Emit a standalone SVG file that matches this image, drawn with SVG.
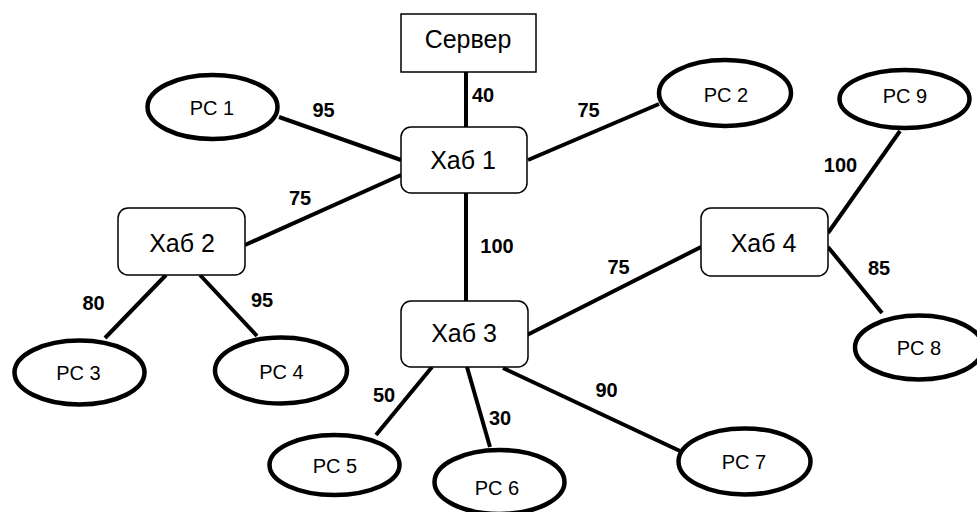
<svg xmlns="http://www.w3.org/2000/svg" width="977" height="512" viewBox="0 0 977 512">
  <style>
    .link { stroke: #000; stroke-width: 4; fill: none; }
    .pc { fill: #fff; stroke: #000; stroke-width: 4.5; }
    .hub { fill: #fff; stroke: #000; stroke-width: 1.5; }
    .pc-text { font-family: "Liberation Sans", Arial, sans-serif; font-size: 20px; text-anchor: middle; fill: #000; }
    .hub-text { font-family: "Liberation Sans", Arial, sans-serif; font-size: 25px; text-anchor: middle; fill: #000; }
    .weight { font-family: "Liberation Sans", Arial, sans-serif; font-size: 20px; font-weight: bold; text-anchor: middle; fill: #000; }
  </style>
  <rect width="977" height="512" fill="#fff"/>

  <!-- connectors with link weights -->
  <g id="connectors">
    <line class="link" x1="466" y1="72" x2="466" y2="127"/>
    <line class="link" x1="401" y1="160" x2="279" y2="117"/>
    <line class="link" x1="401" y1="175" x2="245" y2="245"/>
    <line class="link" x1="528" y1="160" x2="659" y2="104"/>
    <line class="link" x1="466" y1="193" x2="466" y2="301"/>
    <line class="link" x1="166" y1="275" x2="105" y2="338"/>
    <line class="link" x1="200" y1="275" x2="257" y2="336"/>
    <line class="link" x1="432" y1="367" x2="376" y2="435"/>
    <line class="link" x1="467" y1="367" x2="490" y2="447"/>
    <line class="link" x1="503" y1="368" x2="680" y2="451"/>
    <line class="link" x1="527" y1="335" x2="701" y2="247"/>
    <line class="link" x1="828" y1="233" x2="900" y2="131"/>
    <line class="link" x1="828" y1="247" x2="882" y2="313"/>

    <text class="weight" x="483" y="102">40</text>
    <text class="weight" x="323.5" y="117">95</text>
    <text class="weight" x="300" y="205">75</text>
    <text class="weight" x="588.5" y="117">75</text>
    <text class="weight" x="497" y="253">100</text>
    <text class="weight" x="93.5" y="310">80</text>
    <text class="weight" x="262" y="307">95</text>
    <text class="weight" x="384" y="402">50</text>
    <text class="weight" x="500" y="425">30</text>
    <text class="weight" x="606.5" y="397">90</text>
    <text class="weight" x="618.5" y="274">75</text>
    <text class="weight" x="840.5" y="172">100</text>
    <text class="weight" x="879" y="275">85</text>
  </g>

  <!-- server -->
  <g id="server">
    <rect x="401" y="14" width="135" height="58" fill="#fff" stroke="#000" stroke-width="1.5"/>
    <text class="hub-text" x="468" y="48">Сервер</text>
  </g>

  <!-- hubs -->
  <g id="hub1">
    <rect class="hub" x="401" y="127" width="126" height="66" rx="10"/>
    <text class="hub-text" x="463" y="169">Хаб 1</text>
  </g>
  <g id="hub2">
    <rect class="hub" x="118" y="208" width="127" height="67" rx="10"/>
    <text class="hub-text" x="182" y="251.5">Хаб 2</text>
  </g>
  <g id="hub3">
    <rect class="hub" x="401" y="301" width="127" height="66" rx="10"/>
    <text class="hub-text" x="464" y="341.5">Хаб 3</text>
  </g>
  <g id="hub4">
    <rect class="hub" x="701" y="208" width="127" height="68" rx="10"/>
    <text class="hub-text" x="763.5" y="251.5">Хаб 4</text>
  </g>

  <!-- workstations -->
  <g id="pc1">
    <ellipse class="pc" cx="212.5" cy="107" rx="65" ry="32"/>
    <text class="pc-text" x="212" y="115">PC 1</text>
  </g>
  <g id="pc2">
    <ellipse class="pc" cx="725" cy="93" rx="66" ry="33"/>
    <text class="pc-text" x="726" y="101.5">PC 2</text>
  </g>
  <g id="pc3">
    <ellipse class="pc" cx="79.5" cy="372.5" rx="65" ry="32"/>
    <text class="pc-text" x="78.5" y="380">PC 3</text>
  </g>
  <g id="pc4">
    <ellipse class="pc" cx="281" cy="370.5" rx="66" ry="33"/>
    <text class="pc-text" x="281.5" y="379">PC 4</text>
  </g>
  <g id="pc5">
    <ellipse class="pc" cx="334.5" cy="465" rx="65" ry="30"/>
    <text class="pc-text" x="335" y="473">PC 5</text>
  </g>
  <g id="pc6">
    <ellipse class="pc" cx="499.5" cy="482" rx="65" ry="32"/>
    <text class="pc-text" x="497" y="495">PC 6</text>
  </g>
  <g id="pc7">
    <ellipse class="pc" cx="744.5" cy="461.5" rx="66" ry="33"/>
    <text class="pc-text" x="744" y="469">PC 7</text>
  </g>
  <g id="pc8">
    <ellipse class="pc" cx="919" cy="347.5" rx="64" ry="32"/>
    <text class="pc-text" x="919" y="355">PC 8</text>
  </g>
  <g id="pc9">
    <ellipse class="pc" cx="904.5" cy="99" rx="65" ry="29"/>
    <text class="pc-text" x="905" y="103">PC 9</text>
  </g>
</svg>
